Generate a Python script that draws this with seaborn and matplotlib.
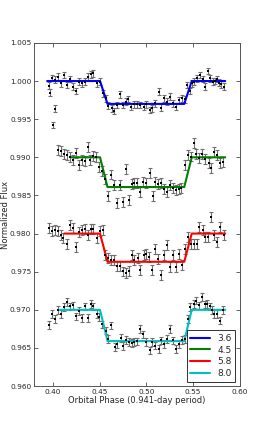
import numpy as np
import pandas as pd
import matplotlib
matplotlib.use('Agg')
import matplotlib.pyplot as plt
import seaborn as sns

# Light curves (orbital phase, normalized flux)
phase_36 = [0.3958, 0.3966, 0.3995, 0.3998, 0.4024, 0.4026, 0.4056, 0.4088, 0.4120, 0.4149,
            0.4184, 0.4213, 0.4245, 0.4281, 0.4309, 0.4341, 0.4377, 0.4405, 0.4434, 0.4469,
            0.4501, 0.4533, 0.4565, 0.4590, 0.4629, 0.4654, 0.4690, 0.4718, 0.4751, 0.4779,
            0.4807, 0.4840, 0.4868, 0.4900, 0.4936, 0.4971, 0.5000, 0.5035, 0.5060, 0.5096,
            0.5131, 0.5160, 0.5192, 0.5220, 0.5252, 0.5284, 0.5320, 0.5349, 0.5381, 0.5409,
            0.5434, 0.5470, 0.5487, 0.5512, 0.5541, 0.5569, 0.5601, 0.5630, 0.5655, 0.5683,
            0.5708, 0.5729, 0.5754, 0.5779, 0.5801, 0.5826]
flux_36 = [0.99939, 0.99847, 1.00040, 0.99423, 1.00020, 0.99639, 1.00057, 0.99969, 1.00079, 0.99948,
           1.00026, 0.99926, 0.99869, 0.99991, 0.99969, 0.99990, 1.00057, 1.00087, 1.00100, 0.99970,
           0.99990, 0.99840, 0.99773, 0.99677, 0.99642, 0.99607, 0.99685, 0.99825, 0.99685, 0.99729,
           0.99764, 0.99664, 0.99694, 0.99694, 0.99685, 0.99664, 0.99694, 0.99620, 0.99642, 0.99707,
           0.99860, 0.99650, 0.99773, 0.99730, 0.99795, 0.99707, 0.99664, 0.99751, 0.99773, 0.99760,
           0.99948, 0.99869, 0.99969, 0.99991, 1.00035, 1.00079, 1.00026, 0.99926, 1.00131, 1.00035,
           0.99991, 1.00000, 1.00026, 0.99978, 0.99956, 0.99926]

phase_45 = [0.4053, 0.4088, 0.4117, 0.4149, 0.4181, 0.4213, 0.4245, 0.4277, 0.4309, 0.4341,
            0.4373, 0.4401, 0.4433, 0.4462, 0.4497, 0.4529, 0.4561, 0.4590, 0.4622, 0.4654,
            0.4686, 0.4718, 0.4751, 0.4783, 0.4815, 0.4843, 0.4868, 0.4900, 0.4936, 0.4964,
            0.5000, 0.5035, 0.5067, 0.5096, 0.5128, 0.5156, 0.5192, 0.5220, 0.5256, 0.5284,
            0.5320, 0.5345, 0.5373, 0.5409, 0.5441, 0.5473, 0.5505, 0.5534, 0.5566, 0.5594,
            0.5630, 0.5665, 0.5690, 0.5726, 0.5754, 0.5790, 0.5818]
flux_45 = [0.99096, 0.99087, 0.99044, 0.99035, 0.99009, 0.98965, 0.99057, 0.98900, 0.98965, 0.98957,
           0.99131, 0.98965, 0.99017, 0.99009, 0.98878, 0.98826, 0.98717, 0.98491, 0.98774, 0.98639,
           0.98404, 0.98639, 0.98419, 0.98843, 0.98441, 0.98650, 0.98659, 0.98659, 0.98550, 0.98681,
           0.98668, 0.98790, 0.98493, 0.98681, 0.98650, 0.98659, 0.98580, 0.98550, 0.98637, 0.98594,
           0.98572, 0.98580, 0.98594, 0.98900, 0.99030, 0.99010, 0.99184, 0.99044, 0.98987, 0.99044,
           0.98974, 0.98921, 0.98856, 0.99074, 0.99031, 0.98921, 0.98943]

phase_58 = [0.3960, 0.3996, 0.4024, 0.4056, 0.4085, 0.4113, 0.4149, 0.4184, 0.4220, 0.4249,
            0.4281, 0.4309, 0.4341, 0.4377, 0.4405, 0.4434, 0.4469, 0.4501, 0.4533, 0.4558,
            0.4590, 0.4626, 0.4654, 0.4690, 0.4718, 0.4751, 0.4779, 0.4815, 0.4843, 0.4868,
            0.4907, 0.4936, 0.4971, 0.5000, 0.5028, 0.5060, 0.5096, 0.5124, 0.5160, 0.5192,
            0.5220, 0.5256, 0.5284, 0.5320, 0.5352, 0.5381, 0.5416, 0.5445, 0.5480, 0.5512,
            0.5541, 0.5566, 0.5601, 0.5630, 0.5658, 0.5690, 0.5726, 0.5754, 0.5790, 0.5826]
flux_58 = [0.98074, 0.98030, 0.98044, 0.98030, 0.97987, 0.97943, 0.97869, 0.98118, 0.98074, 0.97825,
           0.98022, 0.98044, 0.98065, 0.97987, 0.98065, 0.98065, 0.97940, 0.98039, 0.98052, 0.97721,
           0.97677, 0.97655, 0.97655, 0.97578, 0.97578, 0.97503, 0.97480, 0.97515, 0.97720, 0.97655,
           0.97681, 0.97520, 0.97716, 0.97738, 0.97694, 0.97520, 0.97803, 0.97663, 0.97454, 0.97716,
           0.97847, 0.97563, 0.97716, 0.97563, 0.97738, 0.97585, 0.97803, 0.97956, 0.97869, 0.97869,
           0.97869, 0.98087, 0.98044, 0.97956, 0.97956, 0.98218, 0.97987, 0.97891, 0.98087, 0.97987]

phase_80 = [0.3960, 0.3996, 0.4024, 0.4056, 0.4085, 0.4120, 0.4149, 0.4184, 0.4220, 0.4252,
            0.4281, 0.4309, 0.4345, 0.4377, 0.4405, 0.4434, 0.4469, 0.4498, 0.4530, 0.4565,
            0.4590, 0.4626, 0.4665, 0.4690, 0.4726, 0.4751, 0.4779, 0.4815, 0.4843, 0.4868,
            0.4900, 0.4936, 0.4964, 0.5000, 0.5035, 0.5060, 0.5096, 0.5131, 0.5160, 0.5192,
            0.5220, 0.5256, 0.5284, 0.5320, 0.5352, 0.5381, 0.5409, 0.5441, 0.5470, 0.5505,
            0.5534, 0.5566, 0.5594, 0.5623, 0.5648, 0.5676, 0.5705, 0.5726, 0.5754, 0.5783,
            0.5818]
flux_80 = [0.96803, 0.96948, 0.96882, 0.97000, 0.96948, 0.97035, 0.97100, 0.97044, 0.97057, 0.96913,
           0.96983, 0.96895, 0.97044, 0.96895, 0.97079, 0.97044, 0.96948, 0.96904, 0.96808, 0.96729,
           0.96620, 0.96795, 0.96511, 0.96554, 0.96633, 0.96520, 0.96607, 0.96576, 0.96563, 0.96576,
           0.96585, 0.96751, 0.96677, 0.96576, 0.96467, 0.96576, 0.96532, 0.96489, 0.96598, 0.96554,
           0.96620, 0.96751, 0.96598, 0.96489, 0.96554, 0.96607, 0.96620, 0.96882, 0.97035, 0.97079,
           0.97122, 0.97057, 0.97166, 0.97070, 0.97079, 0.97044, 0.97000, 0.96948, 0.96948, 0.96860,
           0.97000]

# Flux uncertainties (one per channel)
errors = [0.00045, 0.00065, 0.00065, 0.00052]

# Model transit: contact phases, start/end of curve, out- and in-transit levels
contacts = [0.4505, 0.4585, 0.5405, 0.5485]
model_start = [0.3940, 0.4195, 0.4124, 0.4078]
model_end = [0.5843, 0.5843, 0.5843, 0.5843]
level_out = [1.0000, 0.9900, 0.9800, 0.9700]
level_in = [0.9970, 0.9861, 0.9763, 0.9659]

labels = ['3.6', '4.5', '5.8', '8.0']
colors = ['#0000ff', '#008000', '#ff0000', '#00bfbf']

phases = [phase_36, phase_45, phase_58, phase_80]
fluxes = [flux_36, flux_45, flux_58, flux_80]

sns.set_style('ticks')
plt.rcParams['font.family'] = ['DejaVu Sans']
plt.rcParams['xtick.direction'] = 'in'
plt.rcParams['ytick.direction'] = 'in'

fig = plt.figure(figsize=(2.66, 4.29), dpi=100)
ax = fig.add_axes([0.128, 0.100, 0.774, 0.800])

for i in range(4):
    ax.errorbar(phases[i], fluxes[i], yerr=errors[i], fmt='none', ecolor='#6f6f6f',
                elinewidth=0.8, capsize=1.3, capthick=0.8, zorder=2)

    model = pd.DataFrame({
        'phase': [model_start[i], contacts[0], contacts[1], contacts[2], contacts[3], model_end[i]],
        'flux': [level_out[i], level_out[i], level_in[i], level_in[i], level_out[i], level_out[i]],
    })
    sns.lineplot(data=model, x='phase', y='flux', color=colors[i], linewidth=1.5,
                 sort=False, label=labels[i], ax=ax, zorder=3)

    pts = pd.DataFrame({'phase': phases[i], 'flux': fluxes[i]})
    sns.scatterplot(data=pts, x='phase', y='flux', color='black', marker='s', s=4.5,
                    linewidth=0, ax=ax, zorder=4)

ax.set_xlim(0.38, 0.60)
ax.set_ylim(0.960, 1.005)
ax.set_xticks([0.40, 0.45, 0.50, 0.55, 0.60])
ax.set_xticklabels(['0.40', '0.45', '0.50', '0.55', '0.60'])
ax.set_yticks([0.960, 0.965, 0.970, 0.975, 0.980, 0.985, 0.990, 0.995, 1.000, 1.005])
ax.set_yticklabels(['%.3f' % v for v in ax.get_yticks()])
ax.tick_params(axis='both', labelsize=5.3, length=3, width=0.5, top=True, right=True, pad=2)
for s in ax.spines.values():
    s.set_linewidth(0.7)
    s.set_color('#555555')

ax.set_xlabel('Orbital Phase (0.941-day period)', fontsize=6, labelpad=1)
ax.set_ylabel('Normalized Flux', fontsize=6)
ax.yaxis.set_label_coords(-0.115, 0.5)

leg = ax.legend(loc='lower right', fontsize=6.5, frameon=True, fancybox=False,
                handlelength=2.2, borderaxespad=0.5, labelspacing=0.3, borderpad=0.4)
leg.get_frame().set_edgecolor('black')
leg.get_frame().set_linewidth(0.7)

fig.savefig('out.png', dpi=100)
